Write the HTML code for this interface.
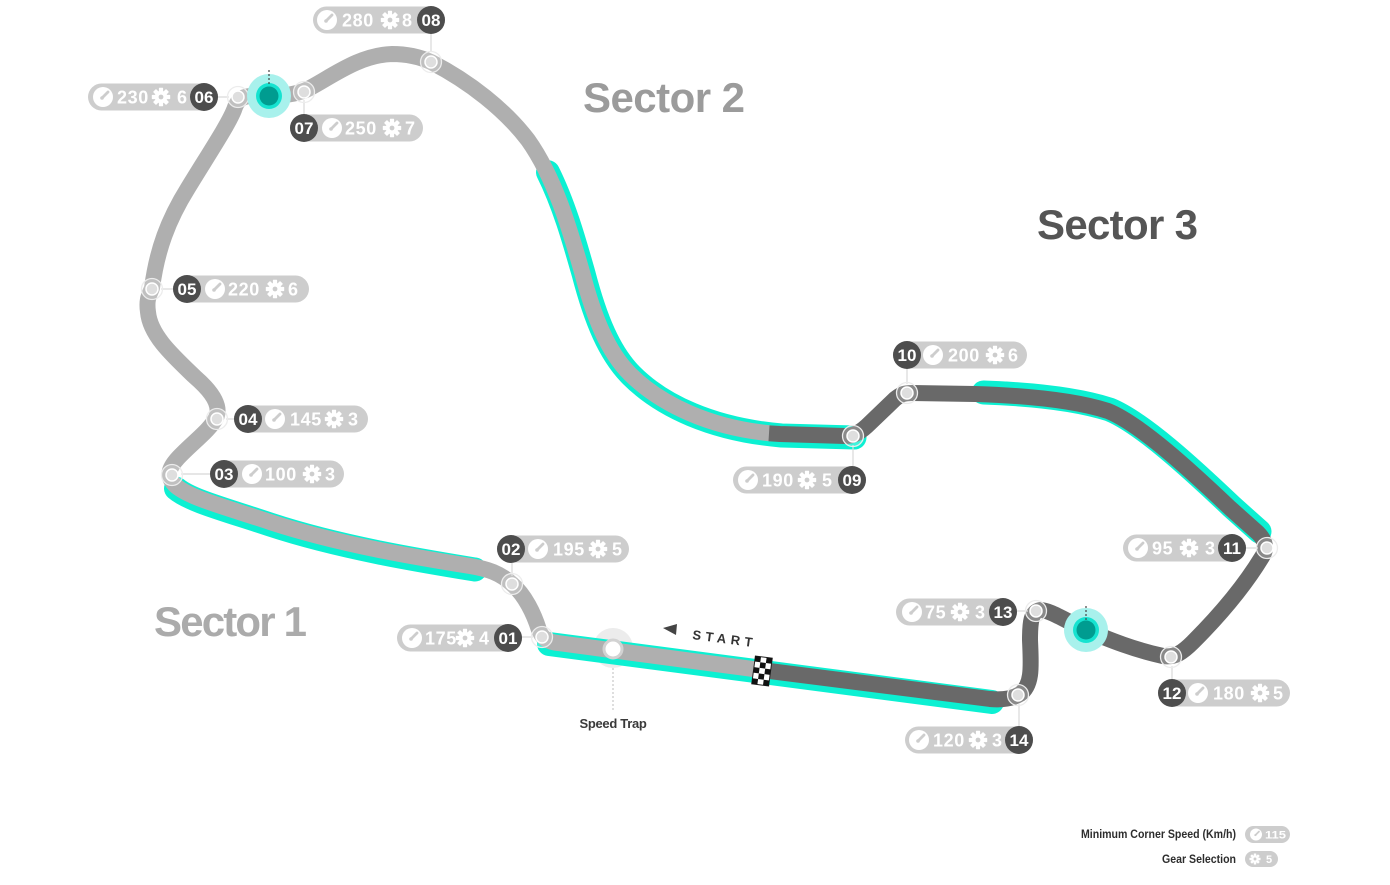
<!DOCTYPE html>
<html><head><meta charset="utf-8">
<style>
html,body{margin:0;padding:0;background:#fff;}
svg{display:block;}
.v{font-family:"Liberation Sans",sans-serif;font-weight:bold;font-size:18px;fill:#fff;letter-spacing:0.6px;}
.n{font-family:"Liberation Sans",sans-serif;font-weight:bold;font-size:17px;fill:#fff;text-anchor:middle;}
.sec{font-family:"Liberation Sans",sans-serif;font-weight:bold;font-size:42px;}
.lg{font-family:"Liberation Sans",sans-serif;font-weight:bold;font-size:11.5px;fill:#2d2d2d;}
.lv{font-family:"Liberation Sans",sans-serif;font-weight:bold;font-size:11px;fill:#fff;}
</style></head>
<body>
<svg width="1390" height="885" viewBox="0 0 1390 885" xmlns="http://www.w3.org/2000/svg">
<defs>
 <g id="gr">
  <circle r="6.3" fill="#fff"/>
  <g fill="#fff">
   <rect x="-2.1" y="-9.2" width="4.2" height="5" rx="0.6"/>
   <rect x="-2.1" y="-9.2" width="4.2" height="5" rx="0.6" transform="rotate(45)"/>
   <rect x="-2.1" y="-9.2" width="4.2" height="5" rx="0.6" transform="rotate(90)"/>
   <rect x="-2.1" y="-9.2" width="4.2" height="5" rx="0.6" transform="rotate(135)"/>
   <rect x="-2.1" y="-9.2" width="4.2" height="5" rx="0.6" transform="rotate(180)"/>
   <rect x="-2.1" y="-9.2" width="4.2" height="5" rx="0.6" transform="rotate(225)"/>
   <rect x="-2.1" y="-9.2" width="4.2" height="5" rx="0.6" transform="rotate(270)"/>
   <rect x="-2.1" y="-9.2" width="4.2" height="5" rx="0.6" transform="rotate(315)"/>
  </g>
  <circle r="2.4" fill="#cdcdcd"/>
 </g>
 <g id="ga">
  <circle r="10" fill="#fff"/>
  <line x1="-1" y1="1" x2="5" y2="-5" stroke="#cdcdcd" stroke-width="2.8" stroke-linecap="round"/>
  <circle cx="-1" cy="1" r="1.8" fill="#cdcdcd"/>
 </g>
</defs>

<!-- speed trap halo -->
<circle cx="613" cy="648" r="20" fill="#ececec"/>

<!-- teal DRS zones -->
<g fill="none" stroke="#0cf0d2" stroke-width="24" stroke-linecap="round">
 <path transform="translate(0,2.5)" d="M 176,486 C 190,498 225,507 270,522 C 340,545 420,558 475,567"/>
 <path transform="translate(0,2)" d="M 549,642 L 992,700"/>
 <path transform="translate(1.5,1.5)" d="M 546.5,170.8 C 562.7,203.4 573,240.5 582,272 C 594,318 608,352 630,374 C 660,404 710,428 780,434 L 853,436"/>
 <path transform="translate(1.5,-1.5)" d="M 982,394 C 1040,396 1080,402 1108,411 C 1140,424 1190,470 1230,508 L 1258,533"/>
</g>

<!-- track light -->
<path fill="none" stroke="#afafaf" stroke-width="16" stroke-linejoin="round" d="M 764,670.5 L 558,643 C 548,642 542,638 539,630 C 534,614 525,595 512,584 C 500,573 488,569 470,566 C 420,558 340,545 270,522 C 225,507 190,498 176,486 C 166,477 168,469 178,458 C 192,443 210,430 216,418 C 222,405 210,390 195,377 C 172,355 150,335 148,312 C 146,298 150,294 152,288 C 157,250 168,220 188,188 C 210,152 228,125 234,110 C 237,101 240,97 250,96 L 269,96 C 285,96 296,94 306,90 C 330,78 358,55 392,54 C 408,54 420,57 431,62 C 470,82 505,110 528,140 C 555,178 570,230 582,272 C 594,318 608,352 630,374 C 660,404 710,428 772,433.5"/>
<!-- track dark -->
<path fill="none" stroke="#696969" stroke-width="16" stroke-linejoin="round" d="M 769,433.3 L 780,434 L 845,436 C 855,436 862,431 870,423 L 895,399 C 900,395 903,393 912,393 L 975,394 C 1040,396 1080,402 1108,411 C 1140,424 1190,470 1230,508 L 1258,533 C 1266,541 1267,549 1262,557 C 1245,585 1220,615 1193,642 C 1183,652 1175,658 1163,656 C 1135,650 1110,640 1086,630 C 1066,621 1050,610 1040,610 C 1031,612 1030,622 1030,640 C 1031,665 1033,685 1020,694 C 1012,699 1002,700 990,699 L 762,670"/>

<!-- connectors -->
<g stroke="#d8d8d8" stroke-width="1.2">
 <line x1="431" y1="34" x2="431" y2="52"/>
 <line x1="218" y1="97" x2="229" y2="97"/>
 <line x1="304" y1="100" x2="304" y2="114"/>
 <line x1="161" y1="289" x2="173" y2="289"/>
 <line x1="226" y1="419" x2="234" y2="419"/>
 <line x1="181" y1="474" x2="210" y2="474"/>
 <line x1="512" y1="563" x2="512" y2="576"/>
 <line x1="522" y1="637" x2="533" y2="637"/>
 <line x1="853" y1="445" x2="853" y2="466"/>
 <line x1="907" y1="369" x2="907" y2="384"/>
 <line x1="1246" y1="548" x2="1258" y2="548"/>
 <line x1="1017" y1="611" x2="1028" y2="611"/>
 <line x1="1172" y1="666" x2="1172" y2="679"/>
 <line x1="1019" y1="704" x2="1019" y2="726"/>
</g>

<!-- corner markers -->
<g>
 <g fill="rgba(255,255,255,0.22)" stroke="#ececec" stroke-width="1.3">
  <circle cx="542" cy="637" r="10.5"/><circle cx="512" cy="584" r="10.5"/>
  <circle cx="172" cy="475" r="10.5"/><circle cx="217" cy="419" r="10.5"/>
  <circle cx="152" cy="289" r="10.5"/><circle cx="238" cy="97" r="10.5"/>
  <circle cx="304" cy="92" r="10.5"/><circle cx="431" cy="62" r="10.5"/>
  <circle cx="853" cy="436" r="10.5"/><circle cx="907" cy="393" r="10.5"/>
  <circle cx="1267" cy="548" r="10.5"/><circle cx="1171" cy="657" r="10.5"/>
  <circle cx="1036" cy="611" r="10.5"/><circle cx="1018" cy="695" r="10.5"/>
 </g>
 <g fill="#dedede" stroke="#fff" stroke-width="1.5">
  <circle cx="542" cy="637" r="6"/><circle cx="512" cy="584" r="6"/>
  <circle cx="172" cy="475" r="6"/><circle cx="217" cy="419" r="6"/>
  <circle cx="152" cy="289" r="6"/><circle cx="238" cy="97" r="6"/>
  <circle cx="304" cy="92" r="6"/><circle cx="431" cy="62" r="6"/>
  <circle cx="853" cy="436" r="6"/><circle cx="907" cy="393" r="6"/>
  <circle cx="1267" cy="548" r="6"/><circle cx="1171" cy="657" r="6"/>
  <circle cx="1036" cy="611" r="6"/><circle cx="1018" cy="695" r="6"/>
 </g>
</g>

<!-- teal markers -->
<circle cx="269" cy="96" r="22" fill="#a8f1ec"/>
<circle cx="269" cy="96" r="13" fill="#16e3d0"/>
<circle cx="269" cy="96" r="9.5" fill="#009c90"/>
<line x1="269" y1="70" x2="269" y2="86" stroke="#444" stroke-width="1.2" stroke-dasharray="2 2"/>
<circle cx="1086" cy="630" r="22" fill="#a8f1ec"/>
<circle cx="1086" cy="630" r="13" fill="#16e3d0"/>
<circle cx="1086" cy="630" r="9.5" fill="#009c90"/>
<line x1="1086" y1="606" x2="1086" y2="620" stroke="#444" stroke-width="1.2" stroke-dasharray="2 2"/>

<!-- speed trap -->
<circle cx="613" cy="649" r="9" fill="#fff" stroke="#d2d2d2" stroke-width="3"/>
<line x1="613" y1="668" x2="613" y2="712" stroke="#bdbdbd" stroke-width="1" stroke-dasharray="2 2"/>
<text x="613" y="728" text-anchor="middle" font-family="Liberation Sans, sans-serif" font-weight="bold" font-size="13" fill="#3a3a3a" letter-spacing="-0.3">Speed Trap</text>

<!-- START -->
<polygon points="663,628 677,624 676,635" fill="#444"/>
<text transform="translate(692,639) rotate(7.5)" font-family="Liberation Sans, sans-serif" font-weight="bold" font-size="13" fill="#333" letter-spacing="4.5">START</text>

<!-- checkered flag -->
<g transform="translate(762,671) rotate(7.5)">
 <rect x="-8.5" y="-14" width="17" height="28" fill="#fff" stroke="#222" stroke-width="1"/>
 <g fill="#111">
  <rect x="-8.5" y="-14" width="5.67" height="5.6"/><rect x="2.83" y="-14" width="5.67" height="5.6"/>
  <rect x="-2.83" y="-8.4" width="5.67" height="5.6"/>
  <rect x="-8.5" y="-2.8" width="5.67" height="5.6"/><rect x="2.83" y="-2.8" width="5.67" height="5.6"/>
  <rect x="-2.83" y="2.8" width="5.67" height="5.6"/>
  <rect x="-8.5" y="8.4" width="5.67" height="5.6"/><rect x="2.83" y="8.4" width="5.67" height="5.6"/>
 </g>
</g>

<!-- sector labels -->
<text class="sec" x="583" y="112" fill="#9b9b9b" textLength="162" lengthAdjust="spacing">Sector 2</text>
<text class="sec" x="1037" y="239" fill="#555" textLength="161" lengthAdjust="spacing">Sector 3</text>
<text class="sec" x="154" y="636" fill="#ababab" textLength="153" lengthAdjust="spacing">Sector 1</text>

<!-- labels -->
<g>
 <!-- 08 -->
 <rect x="313" y="6.5" width="132" height="27" rx="13.5" fill="#cdcdcd"/>
 <use href="#ga" x="327" y="20"/><text class="v" x="342" y="26.5">280</text>
 <use href="#gr" x="390" y="20"/><text class="v" x="402" y="26.5">8</text>
 <circle cx="431" cy="20" r="14" fill="#4d4d4d"/><text class="n" x="431" y="26">08</text>
 <!-- 06 -->
 <rect x="88" y="83.5" width="130" height="27" rx="13.5" fill="#cdcdcd"/>
 <use href="#ga" x="103" y="97"/><text class="v" x="117" y="103.5">230</text>
 <use href="#gr" x="161" y="97"/><text class="v" x="177" y="103.5">6</text>
 <circle cx="204" cy="97" r="14" fill="#4d4d4d"/><text class="n" x="204" y="103">06</text>
 <!-- 07 -->
 <rect x="290" y="114.5" width="133" height="27" rx="13.5" fill="#cdcdcd"/>
 <use href="#ga" x="332" y="128"/><text class="v" x="345" y="134.5">250</text>
 <use href="#gr" x="392" y="128"/><text class="v" x="405" y="134.5">7</text>
 <circle cx="304" cy="128" r="14" fill="#4d4d4d"/><text class="n" x="304" y="134">07</text>
 <!-- 05 -->
 <rect x="173" y="275.5" width="136" height="27" rx="13.5" fill="#cdcdcd"/>
 <use href="#ga" x="215" y="289"/><text class="v" x="228" y="295.5">220</text>
 <use href="#gr" x="275" y="289"/><text class="v" x="288" y="295.5">6</text>
 <circle cx="187" cy="289" r="14" fill="#4d4d4d"/><text class="n" x="187" y="295">05</text>
 <!-- 04 -->
 <rect x="234" y="405.5" width="134" height="27" rx="13.5" fill="#cdcdcd"/>
 <use href="#ga" x="275" y="419"/><text class="v" x="290" y="425.5">145</text>
 <use href="#gr" x="334" y="419"/><text class="v" x="348" y="425.5">3</text>
 <circle cx="248" cy="419" r="14" fill="#4d4d4d"/><text class="n" x="248" y="425">04</text>
 <!-- 03 -->
 <rect x="210" y="460.5" width="134" height="27" rx="13.5" fill="#cdcdcd"/>
 <use href="#ga" x="252" y="474"/><text class="v" x="265" y="480.5">100</text>
 <use href="#gr" x="312" y="474"/><text class="v" x="325" y="480.5">3</text>
 <circle cx="224" cy="474" r="14" fill="#4d4d4d"/><text class="n" x="224" y="480">03</text>
 <!-- 02 -->
 <rect x="497" y="535.5" width="132" height="27" rx="13.5" fill="#cdcdcd"/>
 <use href="#ga" x="538" y="549"/><text class="v" x="553" y="555.5">195</text>
 <use href="#gr" x="598" y="549"/><text class="v" x="612" y="555.5">5</text>
 <circle cx="511" cy="549" r="14" fill="#4d4d4d"/><text class="n" x="511" y="555">02</text>
 <!-- 01 -->
 <rect x="397" y="624.5" width="125" height="27" rx="13.5" fill="#cdcdcd"/>
 <use href="#ga" x="412" y="638"/><text class="v" x="425" y="644.5">175</text>
 <use href="#gr" x="465" y="638"/><text class="v" x="479" y="644.5">4</text>
 <circle cx="508" cy="638" r="14" fill="#4d4d4d"/><text class="n" x="508" y="644">01</text>
 <!-- 09 -->
 <rect x="733" y="466.5" width="133" height="27" rx="13.5" fill="#cdcdcd"/>
 <use href="#ga" x="748" y="480"/><text class="v" x="762" y="486.5">190</text>
 <use href="#gr" x="807" y="480"/><text class="v" x="822" y="486.5">5</text>
 <circle cx="852" cy="480" r="14" fill="#4d4d4d"/><text class="n" x="852" y="486">09</text>
 <!-- 10 -->
 <rect x="893" y="341.5" width="134" height="27" rx="13.5" fill="#cdcdcd"/>
 <use href="#ga" x="933" y="355"/><text class="v" x="948" y="361.5">200</text>
 <use href="#gr" x="995" y="355"/><text class="v" x="1008" y="361.5">6</text>
 <circle cx="907" cy="355" r="14" fill="#4d4d4d"/><text class="n" x="907" y="361">10</text>
 <!-- 11 -->
 <rect x="1123" y="534.5" width="123" height="27" rx="13.5" fill="#cdcdcd"/>
 <use href="#ga" x="1138" y="548"/><text class="v" x="1152" y="554.5">95</text>
 <use href="#gr" x="1189" y="548"/><text class="v" x="1205" y="554.5">3</text>
 <circle cx="1232" cy="548" r="14" fill="#4d4d4d"/><text class="n" x="1232" y="554">11</text>
 <!-- 13 -->
 <rect x="896" y="598.5" width="121" height="27" rx="13.5" fill="#cdcdcd"/>
 <use href="#ga" x="912" y="612"/><text class="v" x="925" y="618.5">75</text>
 <use href="#gr" x="960" y="612"/><text class="v" x="975" y="618.5">3</text>
 <circle cx="1003" cy="612" r="14" fill="#4d4d4d"/><text class="n" x="1003" y="618">13</text>
 <!-- 12 -->
 <rect x="1158" y="679.5" width="132" height="27" rx="13.5" fill="#cdcdcd"/>
 <use href="#ga" x="1198" y="693"/><text class="v" x="1213" y="699.5">180</text>
 <use href="#gr" x="1260" y="693"/><text class="v" x="1273" y="699.5">5</text>
 <circle cx="1172" cy="693" r="14" fill="#4d4d4d"/><text class="n" x="1172" y="699">12</text>
 <!-- 14 -->
 <rect x="905" y="726.5" width="128" height="27" rx="13.5" fill="#cdcdcd"/>
 <use href="#ga" x="919" y="740"/><text class="v" x="933" y="746.5">120</text>
 <use href="#gr" x="978" y="740"/><text class="v" x="992" y="746.5">3</text>
 <circle cx="1019" cy="740" r="14" fill="#4d4d4d"/><text class="n" x="1019" y="746">14</text>
</g>

<!-- legend -->
<text class="lg" x="1081" y="838" textLength="155" lengthAdjust="spacingAndGlyphs">Minimum Corner Speed (Km/h)</text>
<text class="lg" x="1162" y="863" textLength="74" lengthAdjust="spacingAndGlyphs">Gear Selection</text>
<rect x="1245" y="826" width="45" height="17" rx="8.5" fill="#cdcdcd"/>
<g transform="translate(1256,834.5) scale(0.6)"><use href="#ga"/></g>
<text class="lv" x="1265" y="838.5" textLength="21" lengthAdjust="spacingAndGlyphs">115</text>
<rect x="1245" y="851" width="33" height="16" rx="8" fill="#cdcdcd"/>
<g transform="translate(1255,859) scale(0.6)"><use href="#gr"/></g>
<text class="lv" x="1266" y="863">5</text>
</svg>
</body></html>
